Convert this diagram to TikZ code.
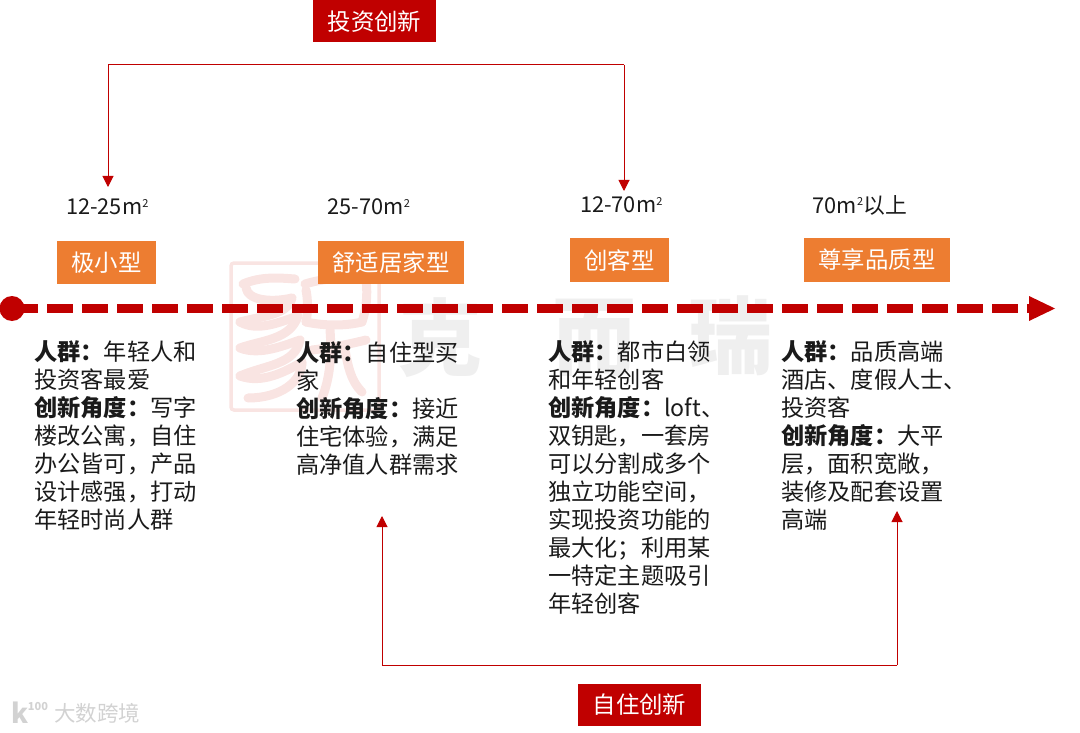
\documentclass[tikz,border=0pt]{standalone}
\usepackage{fontspec}
\setmainfont{Noto Sans CJK SC}
\usetikzlibrary{arrows.meta}
\definecolor{cred}{HTML}{C00000}
\definecolor{corange}{HTML}{ED7D31}
\definecolor{ctext}{HTML}{1A1A1A}
\definecolor{seal}{HTML}{F9E4E2}
\definecolor{wmgrey}{HTML}{EFEFEF}
\definecolor{logogrey}{HTML}{D2D2D2}
\newcommand{\bd}[1]{\textbf{#1}}
\newcommand{\sq}{\textsuperscript{\fontsize{11}{11}\selectfont 2}}
\tikzset{
  x=1pt,y=-1pt,
  redbox/.style={fill=cred,text=white,minimum width=123pt,minimum height=42pt,inner sep=0pt,font=\fontsize{23.4}{26}\selectfont},
  orbox/.style={fill=corange,text=white,minimum height=43pt,inner sep=0pt,font=\fontsize{23.4}{26}\selectfont},
  sizelabel/.style={text=ctext,inner sep=0pt,font=\fontsize{21.8}{25}\selectfont},
  body/.style={text=ctext,inner sep=0pt,anchor=north west,align=left,font=\fontsize{23.2}{28}\selectfont},
  conn/.style={draw=cred,line width=1pt},
  connarrow/.style={conn,-{Triangle[length=11pt,width=11pt]}},
  wm/.style={text=wmgrey,inner sep=0pt,font=\fontsize{84}{86}\bfseries\selectfont},
  sealstroke/.style={draw=seal,line width=9pt,line cap=round,line join=round},
}
\begin{document}
\begin{tikzpicture}
\useasboundingbox (0,0) rectangle (1080,733);
% watermark seal
\draw[seal,line width=3.5pt,rounded corners=3pt] (231,263) rectangle (379,410);
\draw[sealstroke] (243,284) .. controls (262,276) and (280,278) .. (295,279);
\draw[sealstroke] (246,288) .. controls (248,300) and (270,303) .. (292,298);
\draw[sealstroke] (292,298) .. controls (288,315) and (262,316) .. (240,322);
\draw[sealstroke] (240,322) .. controls (258,332) and (280,322) .. (298,316);
\draw[sealstroke] (298,316) .. controls (290,340) and (262,340) .. (240,348);
\draw[sealstroke] (240,348) .. controls (260,356) and (285,345) .. (300,340);
\draw[sealstroke] (300,340) .. controls (295,365) and (265,365) .. (240,376);
\draw[sealstroke] (240,376) .. controls (262,384) and (285,372) .. (302,362);
\draw[sealstroke] (302,362) .. controls (302,382) and (280,398) .. (248,398);
\draw[sealstroke] (305,284) .. controls (325,278) and (350,276) .. (366,280);
\draw[sealstroke] (366,280) .. controls (368,296) and (366,310) .. (362,322);
\draw[sealstroke] (362,322) .. controls (345,326) and (325,326) .. (306,322);
\draw[sealstroke] (306,290) .. controls (308,300) and (308,312) .. (306,322);
\draw[sealstroke] (330,330) .. controls (332,355) and (330,378) .. (322,398);
\draw[sealstroke] (312,350) .. controls (330,348) and (350,344) .. (366,340);
\draw[sealstroke] (345,350) .. controls (348,365) and (350,380) .. (362,392);
% watermark text
\node[wm] (wma) at (440,338) {克};
\node[wm] (wmb) at (594,338) {而};
\node[wm] (wmc) at (730,336) {瑞};
% bottom-left watermark
\node[inner sep=0pt,text=logogrey,font=\fontsize{21.5}{24}\selectfont,anchor=west] (wmd) at (54,713) {大数跨境};
\node[inner sep=0pt,text=logogrey,font=\fontsize{27}{28}\bfseries\selectfont] (wme) at (20,713) {k};
\node[inner sep=0pt,text=logogrey,font=\fontsize{11}{12}\bfseries\selectfont] (wmf) at (38,707) {100};
% top
\node[redbox] (invest) at (374.5,21.5) {投资创新};
\coordinate (tr) at (624,65);
\coordinate (tl) at (108,65);
\coordinate (ta) at (108,187);
\coordinate (tb) at (624,191);
\draw[connarrow] (tr) -- (tl) -- (ta);
\draw[connarrow] (tr) -- (tb);
% sizes
\node[sizelabel] (s1) at (107.5,207) {12-25m\sq};
\node[sizelabel] (s2) at (369,207) {25-70m\sq};
\node[sizelabel] (s3) at (621.5,205) {12-70m\sq};
\node[sizelabel] (s4) at (860,205) {70m\sq 以上};
% type boxes
\node[orbox,minimum width=99pt] (b1) at (106.5,262.5) {极小型};
\node[orbox,minimum width=145.5pt] (b2) at (391,262.5) {舒适居家型};
\node[orbox,minimum width=99pt] (b3) at (619.5,260) {创客型};
\node[orbox,minimum width=146pt] (b4) at (877,260) {尊享品质型};
% axis
\coordinate (axs) at (12,308.5);
\coordinate (axe) at (1029,308.5);
\coordinate (axt) at (1055,308.5);
\draw[cred,line width=8.6pt,dash pattern=on 26.4pt off 8.6pt] (axs) -- (axe);
\fill[cred] (axs) circle (12.5);
\fill[cred] (1029,296) -- (axt) -- (1029,321) -- cycle;
% bodies
\node[body] (t1) at (34,340) {\bd{人群：}年轻人和\\投资客最爱\\\bd{创新角度：}写字\\楼改公寓，自住\\办公皆可，产品\\设计感强，打动\\年轻时尚人群};
\node[body] (t2) at (296,341) {\bd{人群：}自住型买\\家\\\bd{创新角度：}接近\\住宅体验，满足\\高净值人群需求};
\node[body] (t3) at (548,340) {\bd{人群：}都市白领\\和年轻创客\\\bd{创新角度：}loft、\\双钥匙，一套房\\可以分割成多个\\独立功能空间，\\实现投资功能的\\最大化；利用某\\一特定主题吸引\\年轻创客};
\node[body] (t4) at (781,340) {\bd{人群：}品质高端\\酒店、度假人士、\\投资客\\\bd{创新角度：}大平\\层，面积宽敞，\\装修及配套设置\\高端};
% bottom
\coordinate (br) at (897,665);
\coordinate (bl) at (382,665);
\coordinate (ba) at (382,516);
\coordinate (bb) at (897,511);
\draw[connarrow] (br) -- (bl) -- (ba);
\draw[connarrow] (br) -- (bb);
\node[redbox] (self) at (639.5,704.5) {自住创新};
\end{tikzpicture}
\end{document}
